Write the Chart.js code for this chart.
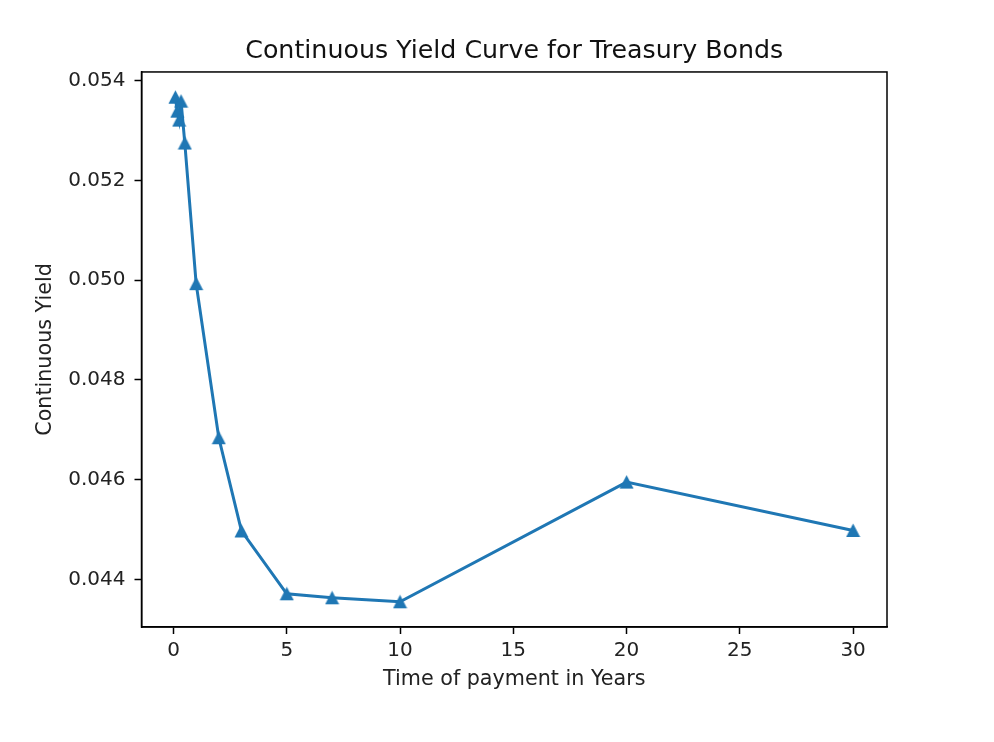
<!DOCTYPE html>
<html>
<head>
<meta charset="utf-8">
<script src="https://cdn.jsdelivr.net/npm/chart.js@4/dist/chart.umd.min.js"></script>
<style>
  html, body { margin: 0; padding: 0; background: #ffffff; }
  canvas { display: block; }
</style>
</head>
<body>
<canvas id="c" width="994" height="742"></canvas>
<script>
// ---- data ----
const maturities = [1/12, 2/12, 3/12, 4/12, 6/12, 1, 2, 3, 5, 7, 10, 20, 30];
const yields = [0.05367, 0.05339, 0.05321, 0.05359, 0.05275, 0.04993, 0.04684, 0.04497, 0.04371, 0.04363, 0.04355, 0.04595, 0.04498];
const xTicks = [0, 5, 10, 15, 20, 25, 30];
const yTicks = [0.044, 0.046, 0.048, 0.050, 0.052, 0.054];
const titleText = 'Continuous Yield Curve for Treasury Bonds';
const xTitle = 'Time of payment in Years';
const yTitle = 'Continuous Yield';

const BLUE = '#1f77b4';
const FONT = "'DejaVu Sans', sans-serif";

// triangle marker (matplotlib '^' style)
const tri = document.createElement('canvas');
tri.width = 15; tri.height = 15;
(function () {
  const g = tri.getContext('2d');
  g.fillStyle = BLUE;
  g.beginPath();
  g.moveTo(7.5, 0.5);
  g.lineTo(14.5, 14);
  g.lineTo(0.5, 14);
  g.closePath();
  g.fill();
})();

const points = maturities.map((m, i) => ({ x: m, y: yields[i] }));

const frame = {
  id: 'frame',
  afterDraw(chart) {
    const a = chart.chartArea;
    const ctx = chart.ctx;
    ctx.save();
    ctx.strokeStyle = '#000';
    ctx.lineWidth = 1.5;
    ctx.strokeRect(a.left, a.top, a.right - a.left, a.bottom - a.top);
    ctx.restore();
  }
};

new Chart(document.getElementById('c'), {
  type: 'line',
  data: {
    datasets: [{
      data: points,
      borderColor: BLUE,
      backgroundColor: BLUE,
      borderWidth: 3,
      pointStyle: tri,
      pointRadius: 7,
      pointHoverRadius: 7,
      tension: 0,
      fill: false,
      clip: false
    }]
  },
  options: {
    responsive: false,
    animation: false,
    devicePixelRatio: 1,
    layout: { padding: { left: 33, right: 107, top: 0, bottom: 50 } },
    plugins: {
      legend: { display: false },
      tooltip: { enabled: false },
      title: {
        display: true,
        text: titleText,
        fullSize: false,
        color: '#111',
        font: { family: FONT, size: 25.3, weight: 'normal', lineHeight: 1.2 },
        padding: { top: 36.3, bottom: 5.3 }
      }
    },
    scales: {
      x: {
        type: 'linear',
        min: -1.412,
        max: 31.496,
        afterFit(s) { s.height = 65; },
        afterBuildTicks(s) { s.ticks = xTicks.map(v => ({ value: v })); },
        grid: { drawOnChartArea: false, drawTicks: true, tickLength: 7, tickColor: '#000', tickWidth: 1.5 },
        border: { display: true, color: '#000', width: 1.5 },
        ticks: {
          color: '#222',
          padding: 5,
          maxRotation: 0,
          autoSkip: false,
          font: { family: FONT, size: 20, lineHeight: 1.2 },
          callback: v => String(v)
        },
        title: {
          display: true,
          text: xTitle,
          color: '#222',
          padding: 0,
          font: { family: FONT, size: 20.7, lineHeight: 1.2 }
        }
      },
      y: {
        type: 'linear',
        min: 0.043044,
        max: 0.054176,
        afterFit(s) { s.width = 108.5; },
        afterBuildTicks(s) { s.ticks = yTicks.map(v => ({ value: v })); },
        grid: { drawOnChartArea: false, drawTicks: true, tickLength: 7, tickColor: '#000', tickWidth: 1.5 },
        border: { display: true, color: '#000', width: 1.5 },
        ticks: {
          color: '#222',
          padding: 9,
          autoSkip: false,
          font: { family: FONT, size: 20, lineHeight: 1.2 },
          callback: v => v.toFixed(3)
        },
        title: {
          display: true,
          text: yTitle,
          color: '#222',
          padding: 0,
          font: { family: FONT, size: 20.7, lineHeight: 1.2 }
        }
      }
    }
  },
  plugins: [frame]
});
</script>
</body>
</html>
